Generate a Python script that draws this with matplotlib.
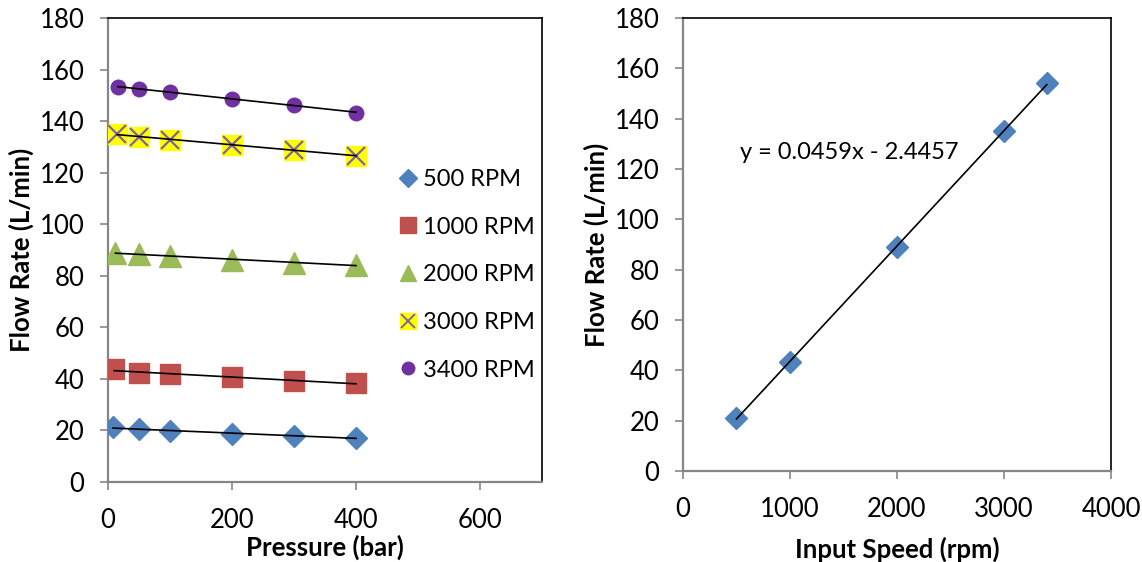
import numpy as np
import matplotlib
matplotlib.use("Agg")
import matplotlib.pyplot as plt
from matplotlib.legend_handler import HandlerTuple

plt.rcParams['font.family'] = ['Lato', 'DejaVu Sans']

# ---- Data: left panel (flow rate vs pressure) ----
p_500 = [8, 50, 100, 200, 300, 400]
q_500 = [21.3, 20.4, 19.8, 18.6, 18.0, 17.1]
p_1000 = [10, 50, 100, 200, 300, 400]
q_1000 = [43.7, 42.4, 41.8, 40.6, 39.3, 38.3]
p_2000 = [12, 50, 100, 200, 300, 400]
q_2000 = [89.0, 88.4, 87.5, 86.1, 85.1, 84.2]
p_3000 = [15, 50, 100, 200, 300, 400]
q_3000 = [135.0, 134.0, 132.7, 130.7, 128.8, 126.6]
p_3400 = [16, 50, 100, 200, 300, 400]
q_3400 = [153.4, 152.4, 151.2, 148.7, 146.2, 143.3]
labels = ["500 RPM", "1000 RPM", "2000 RPM", "3000 RPM", "3400 RPM"]

# ---- Data: right panel (flow rate vs input speed) ----
speed = [500, 1000, 2000, 3000, 3400]
flow = [21.0, 43.5, 89.0, 135.0, 154.0]
equation = "y = 0.0459x - 2.4457"

xticks_left = [0, 200, 400, 600]
xticks_right = [0, 1000, 2000, 3000, 4000]
yticks = [0, 20, 40, 60, 80, 100, 120, 140, 160, 180]

BLUE = "#4F81BD"
RED = "#C0504D"
GREEN = "#9BBB59"
PURPLE = "#7030A0"
XPURPLE = "#8064A2"
YELLOW = "#FFFF00"
GRAY = "#868686"
FS_TICK = 18.5
FS_LABEL = 18.5
FS_TEXT = 17

fig = plt.figure(figsize=(11.42, 5.62), dpi=100)
axL = fig.add_axes([108/1142, 1-482/562, (542-108)/1142, (482-18)/562])
axR = fig.add_axes([683/1142, 1-471/562, (1111-683)/1142, (471-18)/562])


def style(ax):
    for s in ["left", "bottom"]:
        ax.spines[s].set_color(GRAY)
        ax.spines[s].set_linewidth(1.6)
    for s in ["top", "right"]:
        ax.spines[s].set_color("black")
        ax.spines[s].set_linewidth(1.2)
    ax.tick_params(direction="out", length=6, width=1.2, color=GRAY,
                   labelsize=FS_TICK, labelcolor="black")
    ax.tick_params(axis="y", pad=11)
    ax.tick_params(axis="x", pad=13)


def trend(ax, x, y):
    x = np.asarray(x, float)
    c = np.polyfit(x, y, 1)
    xs = np.array([x.min(), x.max()])
    ax.plot(xs, np.polyval(c, xs), color="black", lw=1.2, zorder=4)


# Left panel
axL.plot(p_500, q_500, ls="none", marker="D", ms=11, color=BLUE, zorder=3)
axL.plot(p_1000, q_1000, ls="none", marker="s", ms=14, color=RED, zorder=3)
axL.plot(p_2000, q_2000, ls="none", marker="^", ms=15.5, color=GREEN, zorder=3)
axL.plot(p_3000, q_3000, ls="none", marker="s", ms=14, color=YELLOW, zorder=3)
axL.plot(p_3000, q_3000, ls="none", marker="x", ms=13, mew=1.6, color=XPURPLE, zorder=3)
axL.plot(p_3400, q_3400, ls="none", marker="o", ms=12.5, color=PURPLE,
         mec="white", mew=1.0, zorder=3)
for x, y in [(p_500, q_500), (p_1000, q_1000), (p_2000, q_2000),
             (p_3000, q_3000), (p_3400, q_3400)]:
    trend(axL, x, y)

axL.set_xlim(0, 700)
axL.set_ylim(0, 180)
axL.set_xticks(xticks_left)
axL.set_yticks(yticks)
style(axL)
axL.set_xlabel("Pressure (bar)", fontsize=FS_LABEL, fontweight="bold", labelpad=1)
axL.set_ylabel("Flow Rate (L/min)", fontsize=FS_LABEL, fontweight="bold", labelpad=4)

# legend handles (smaller markers)
lh1, = axL.plot([], [], ls="none", marker="D", ms=9, color=BLUE)
lh2, = axL.plot([], [], ls="none", marker="s", ms=12, color=RED)
lh3, = axL.plot([], [], ls="none", marker="^", ms=12, color=GREEN)
lh4a, = axL.plot([], [], ls="none", marker="s", ms=11, color=YELLOW)
lh4b, = axL.plot([], [], ls="none", marker="x", ms=10, mew=1.4, color=XPURPLE)
lh5, = axL.plot([], [], ls="none", marker="o", ms=9, color=PURPLE)
leg = axL.legend([lh1, lh2, lh3, (lh4a, lh4b), lh5], labels,
                 handler_map={tuple: HandlerTuple(ndivide=1)},
                 loc="upper left", bbox_to_anchor=(0.647, 0.695),
                 frameon=False, fontsize=FS_TEXT, labelspacing=1.13,
                 handlelength=0.8, handletextpad=0.25, borderaxespad=0)

# Right panel
axR.plot(speed, flow, ls="none", marker="D", ms=11, color=BLUE, zorder=3)
trend(axR, speed, flow)
axR.set_xlim(0, 4000)
axR.set_ylim(0, 180)
axR.set_xticks(xticks_right)
axR.set_yticks(yticks)
style(axR)
axR.set_xlabel("Input Speed (rpm)", fontsize=FS_LABEL, fontweight="bold", labelpad=10)
axR.set_ylabel("Flow Rate (L/min)", fontsize=FS_LABEL, fontweight="bold", labelpad=4)
axR.text(530, 126.4, equation, fontsize=FS_TEXT, va="center", ha="left")

fig.savefig("out.png", dpi=100)
